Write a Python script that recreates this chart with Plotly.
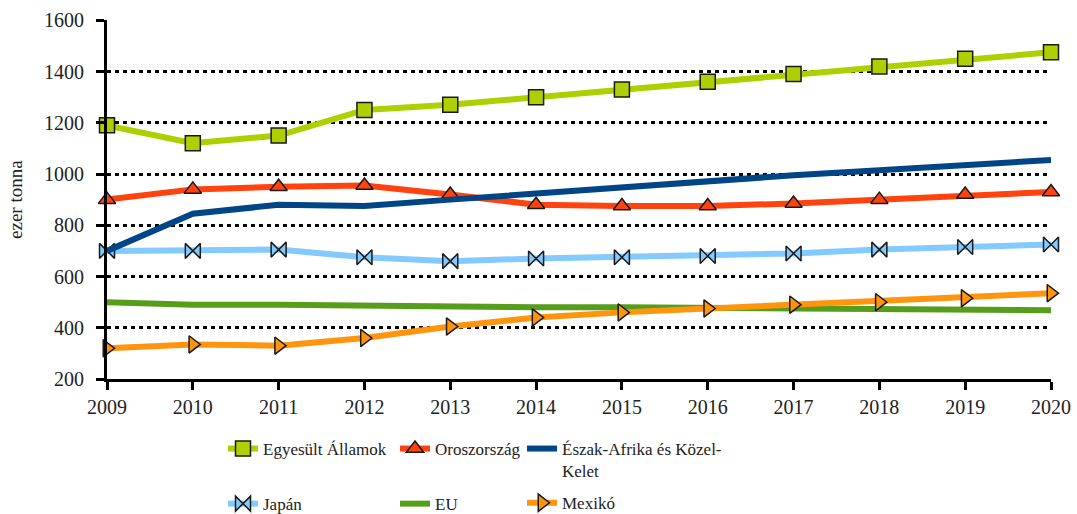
import plotly.graph_objects as go

years = [2009, 2010, 2011, 2012, 2013, 2014, 2015, 2016, 2017, 2018, 2019, 2020]
us = [1190, 1120, 1150, 1250, 1270, 1300, 1330, 1360, 1390, 1420, 1450, 1475]
russia = [900, 940, 950, 955, 920, 880, 875, 875, 885, 900, 920, 930]
mena = [700, 845, 880, 875, 900, 925, 950, 975, 995, 1015, 1035, 1055]
japan = [700, 700, 705, 675, 660, 670, 675, 680, 690, 705, 715, 725]
eu = [500, 490, 490, 485, 485, 480, 480, 477, 475, 475, 470, 468]
mexico = [320, 335, 330, 360, 405, 440, 460, 475, 490, 500, 515, 535]

FONT = "'Liberation Serif', 'Times New Roman', serif"
TXT = "#222"
fig = go.Figure()

def add(name, y, color, symbol, legend, group):
    mode = "lines+markers" if symbol else "lines"
    fig.add_trace(go.Scatter(
        x=years, y=y, name=name, mode=mode, legend=legend, legendgroup=group,
        line=dict(color=color, width=6),
        marker=dict(symbol=symbol or "circle", size=15, color=color,
                    line=dict(color="#1a1a1a", width=1.5)),
        cliponaxis=False,
    ))

add("Egyesült Államok", us, "#aecf00", "square", "legend", "a")
add("Japán", japan, "#83caff", "bowtie", "legend", "b")
add("Oroszország", russia, "#ff420e", "triangle-up", "legend2", "c")
add("EU", eu, "#579d1c", None, "legend2", "d")
add("Észak-Afrika és Közel-<br>Kelet", mena, "#004586", None, "legend3", "e")
add("Mexikó", mexico, "#ff950e", "triangle-right", "legend3", "f")

W, H = 1077, 514
def leg(xpx, gap):
    return dict(x=xpx / W, y=1 - 431 / H, xref="container", yref="container",
                xanchor="left", yanchor="top", orientation="v",
                font=dict(family=FONT, size=17, color=TXT),
                tracegroupgap=gap, valign="top", bgcolor="rgba(0,0,0,0)",
                itemwidth=30, traceorder="grouped")

fig.update_layout(
    width=W, height=H,
    margin=dict(l=107, r=26, t=20, b=135, autoexpand=False),
    plot_bgcolor="white", paper_bgcolor="white",
    font=dict(family=FONT, size=20, color=TXT),
    showlegend=True,
    legend=leg(223, 30),
    legend2=leg(395, 30),
    legend3=leg(522, 7),
    xaxis=dict(range=[2009, 2020], tickmode="array", tickvals=years, tickangle=0,
               showgrid=False, zeroline=False,
               showline=True, linecolor="black", linewidth=3,
               ticks="outside", ticklen=8, tickwidth=3, tickcolor="black",
               tickfont=dict(family=FONT, size=20, color=TXT)),
    yaxis=dict(range=[200, 1601], tickvals=[200, 400, 600, 800, 1000, 1200, 1400, 1600],
               showgrid=True, gridcolor="black", gridwidth=3, griddash="4px,4px",
               zeroline=False, showline=True, linecolor="black", linewidth=3,
               ticks="outside", ticklen=8, tickwidth=3, tickcolor="black",
               ticklabelstandoff=8,
               tickfont=dict(family=FONT, size=20, color=TXT)),
    annotations=[dict(text="ezer tonna", textangle=-90, xref="paper", yref="paper",
                      x=-0.097, y=0.5, xanchor="center", yanchor="middle",
                      showarrow=False, font=dict(family=FONT, size=19, color=TXT))],
)

fig.write_html("out.html", config={"displayModeBar": False},
               post_script="document.body.style.margin='0';")
